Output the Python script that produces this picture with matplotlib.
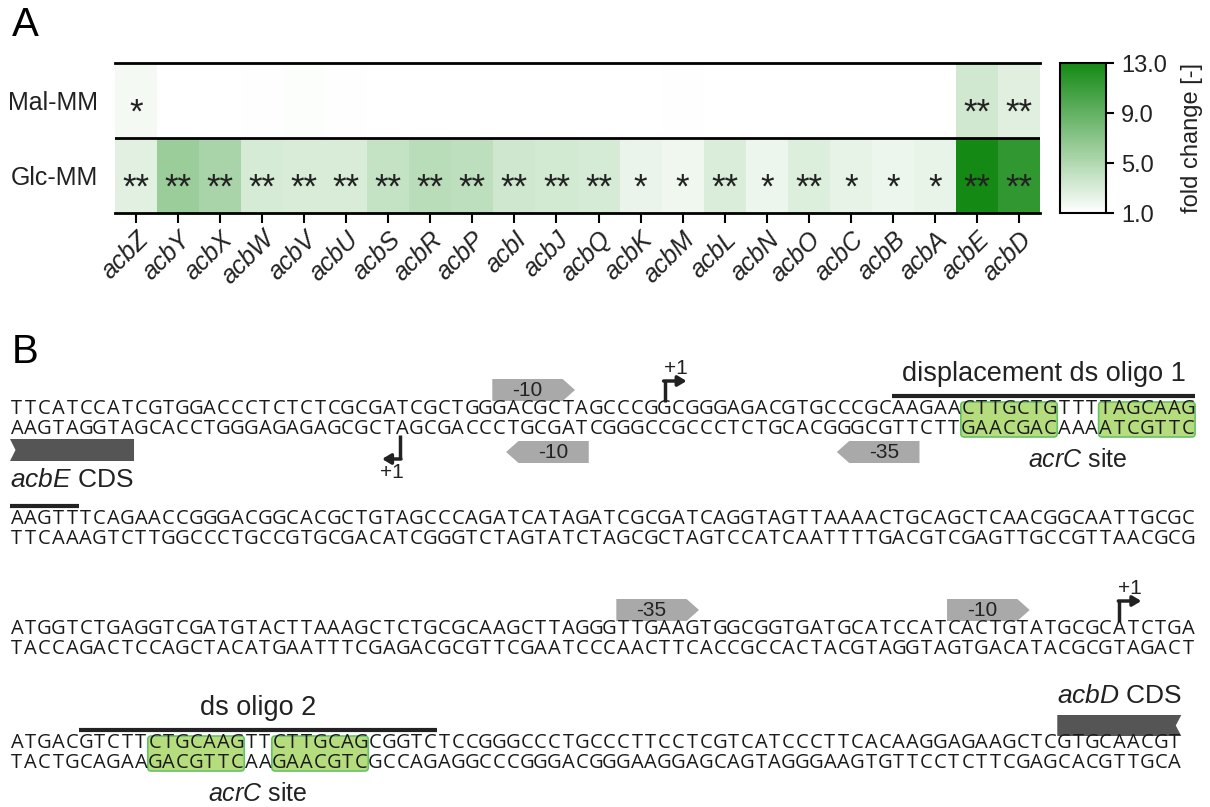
import matplotlib
matplotlib.use("Agg")
import matplotlib.pyplot as plt
import numpy as np
from matplotlib.colors import LinearSegmentedColormap
from matplotlib.patches import FancyBboxPatch, Polygon

plt.rcParams['font.family'] = 'Liberation Sans'
plt.rcParams['mathtext.fontset'] = 'custom'
plt.rcParams['mathtext.it'] = 'Liberation Sans:italic'
plt.rcParams['mathtext.rm'] = 'Liberation Sans'

# ---------------- panel A data ----------------
genes = ['acbZ', 'acbY', 'acbX', 'acbW', 'acbV', 'acbU', 'acbS', 'acbR', 'acbP', 'acbI', 'acbJ',
         'acbQ', 'acbK', 'acbM', 'acbL', 'acbN', 'acbO', 'acbC', 'acbB', 'acbA', 'acbE', 'acbD']
conditions = ['Mal-MM', 'Glc-MM']
mal_mm = [1.6, 1.05, 1.05, 1.1, 1.15, 1.1, 1.05, 1.0, 1.0, 1.05, 1.05,
          1.0, 1.05, 1.1, 1.05, 1.05, 1.05, 1.0, 1.0, 1.0, 3.4, 2.6]
glc_mm = [2.5, 6.2, 5.4, 3.1, 3.0, 3.0, 4.0, 4.6, 4.3, 3.5, 3.3,
          3.1, 2.1, 1.8, 2.9, 1.9, 2.8, 2.3, 1.9, 2.2, 13.0, 11.5]
mal_sig = ['*', '', '', '', '', '', '', '', '', '', '',
           '', '', '', '', '', '', '', '', '', '**', '**']
glc_sig = ['**', '**', '**', '**', '**', '**', '**', '**', '**', '**', '**',
           '**', '*', '*', '**', '*', '**', '*', '*', '*', '**', '**']
cbar_ticks = [1.0, 5.0, 9.0, 13.0]

# ---------------- panel B data ----------------
seq_top = [
    "TTCATCCATCGTGGACCCTCTCTCGCGATCGCTGGGACGCTAGCCCGGCGGGAGACGTGCCCGCAAGAACTTGCTGTTTTAGCAAG",
    "AAGTTTCAGAACCGGGACGGCACGCTGTAGCCCAGATCATAGATCGCGATCAGGTAGTTAAAACTGCAGCTCAACGGCAATTGCGC",
    "ATGGTCTGAGGTCGATGTACTTAAAGCTCTGCGCAAGCTTAGGGTTGAAGTGGCGGTGATGCATCCATCACTGTATGCGCATCTGA",
    "ATGACGTCTTCTGCAAGTTCTTGCAGCGGTCTCCGGGCCCTGCCCTTCCTCGTCATCCCTTCACAAGGAGAAGCTCGTGCAACGT",
]
seq_bottom = [
    "AAGTAGGTAGCACCTGGGAGAGAGCGCTAGCGACCCTGCGATCGGGCCGCCCTCTGCACGGGCGTTCTTGAACGACAAAATCGTTC",
    "TTCAAAGTCTTGGCCCTGCCGTGCGACATCGGGTCTAGTATCTAGCGCTAGTCCATCAATTTTGACGTCGAGTTGCCGTTAACGCG",
    "TACCAGACTCCAGCTACATGAATTTCGAGACGCGTTCGAATCCCAACTTCACCGCCACTACGTAGGTAGTGACATACGCGTAGACT",
    "TACTGCAGAAGACGTTCAAGAACGTCGCCAGAGGCCCGGGACGGGAAGGAGCAGTAGGGAAGTGTTCCTCTTCGAGCACGTTGCA",
]
# promoter boxes: row, strand, first base, last base (exclusive), label
promoters = [(0, 'top', 35, 41, '-10'), (0, 'bottom', 36, 42, '-10'), (0, 'bottom', 60, 66, '-35'),
             (2, 'top', 44, 50, '-35'), (2, 'top', 68, 74, '-10')]
# transcription starts: row, strand, base position
tss = [(0, 'top', 47.5), (0, 'bottom', 28.3), (2, 'top', 80.5)]
# acrC binding half sites: row, start, end
acr_sites = [(0, 69, 76), (0, 79, 86), (3, 10, 17), (3, 19, 26)]
acr_labels = [(0, 77.5), (3, 18.0)]
# oligo bars: row, start, end
oligos = [(0, 64, 86), (1, 0, 5), (3, 5, 31)]
oligo_labels = [(0, 75.0, 'displacement ds oligo 1'), (3, 18.0, 'ds oligo 2')]
# coding sequences: row, strand, start, end, gene
cds = [(0, 'bottom', 0, 9, 'acbE'), (3, 'top', 76, 85, 'acbD')]

W, H = 1210, 807
fig = plt.figure(figsize=(12.1, 8.07), dpi=100)


def px_axes(x0, y0, x1, y1):
    return fig.add_axes([x0 / W, 1 - y1 / H, (x1 - x0) / W, (y1 - y0) / H])


# ================= panel A =================
cmap = LinearSegmentedColormap.from_list('wg', ['#ffffff', '#148a14'])
ax = px_axes(115, 63, 1040, 213)
vals = np.array([mal_mm, glc_mm])
mesh = ax.pcolormesh(np.arange(len(genes) + 1), np.arange(len(conditions) + 1), vals,
                     cmap=cmap, vmin=1, vmax=13)
ax.set_xlim(0, len(genes))
ax.set_ylim(len(conditions), 0)
for sp in ['left', 'right']:
    ax.spines[sp].set_visible(False)
for sp in ['top', 'bottom']:
    ax.spines[sp].set_linewidth(2)
ax.axhline(1, color='black', lw=2)
ax.set_xticks(np.arange(len(genes)) + 0.5)
ax.set_xticklabels(genes, rotation=45, ha='right', rotation_mode='anchor',
                   fontsize=18, fontstyle='italic', color='#222222')
ax.set_yticks(np.arange(len(conditions)) + 0.5)
ax.set_yticklabels(conditions, fontsize=18, color='#222222')
ax.tick_params(axis='x', length=7, width=1.5, pad=3)
ax.tick_params(axis='y', length=0, pad=12)
for r, sig in enumerate([mal_sig, glc_sig]):
    for i, s in enumerate(sig):
        if s:
            ax.text(i + 0.5, r + 0.80, s, ha='center', va='baseline', fontsize=25, color='#222222')

cax = px_axes(1060, 63, 1106, 213)
cb = fig.colorbar(mesh, cax=cax, ticks=cbar_ticks)
cb.ax.set_yticklabels(['%.1f' % t for t in cbar_ticks], fontsize=17, color='#222222')
cb.ax.tick_params(length=6, width=1.5, pad=5)
cb.outline.set_linewidth(1.5)
cb.set_label('fold change [-]', fontsize=17, color='#222222', labelpad=10)

fig.text(12 / W, 1 - 6 / H, 'A', fontsize=29, va='top', ha='left')
fig.text(12 / W, 1 - 333 / H, 'B', fontsize=29, va='top', ha='left')

# ================= panel B =================
P = 13.78      # pixels per base
x0 = 10.0
row_y = [412, 522, 632, 746]
gap = 15
seq_fs = 14.5
axb = fig.add_axes([0, 0, 1, 1], zorder=-1)
axb.set_xlim(-x0 / P, (W - x0) / P)
axb.set_ylim(H, 0)
axb.axis('off')

# one two-line text per base pair column (top strand over bottom strand)
em = seq_fs * 100 / 72.0
for r in range(len(seq_top)):
    for i, (a, b) in enumerate(zip(seq_top[r], seq_bottom[r])):
        axb.text(i + 0.5, row_y[r] + gap + 0.357 * em, a + '\n' + b, ha='center', va='baseline',
                 multialignment='center', linespacing=gap / (0.76 * em), fontsize=seq_fs,
                 family='Open Sans', color='#1a1a1a')

# acrC sites
for r, a, b in acr_sites:
    box = FancyBboxPatch((a, row_y[r] - 10), b - a, gap + 20,
                         boxstyle='round,pad=0,rounding_size=0.25', mutation_aspect=P,
                         fc='#b5dd7e', ec='#66c266', lw=1.2, zorder=0)
    axb.add_patch(box)
for r, c in acr_labels:
    axb.text(c, row_y[r] + gap + 33, r'$\it{acrC}$ site', ha='center', va='center',
             fontsize=18, color='#222222')

# oligo bars
for r, a, b in oligos:
    axb.plot([a, b], [row_y[r] - 16, row_y[r] - 16], color='#222222', lw=3, solid_capstyle='butt')
for r, c, lab in oligo_labels:
    axb.text(c, row_y[r] - 38, lab, ha='center', va='center', fontsize=19.5, color='#222222')

# promoter elements
tip = 0.9
for r, strand, a, b, lab in promoters:
    if strand == 'top':
        yt, yb = row_y[r] - 33, row_y[r] - 11
        pts = [(a, yt), (b - tip, yt), (b, (yt + yb) / 2), (b - tip, yb), (a, yb)]
        cx = (a + b - tip) / 2
    else:
        yt, yb = row_y[r] + gap + 14, row_y[r] + gap + 36
        pts = [(b, yt), (a + tip, yt), (a, (yt + yb) / 2), (a + tip, yb), (b, yb)]
        cx = (a + tip + b) / 2
    axb.add_patch(Polygon(pts, closed=True, fc='#a9a9a9', ec='none'))
    axb.text(cx, (yt + yb) / 2 + 1, lab, ha='center', va='center', fontsize=15, color='#222222')

# transcription start sites
for r, strand, c in tss:
    if strand == 'top':
        ya, yb = row_y[r] - 10, row_y[r] - 31
        xe = c + 1.6
        ty = row_y[r] - 43
        tx = c + 0.8
    else:
        ya, yb = row_y[r] + gap + 8, row_y[r] + gap + 32
        xe = c - 1.3
        ty = row_y[r] + gap + 45
        tx = c - 0.6
    axb.plot([c, c], [ya, yb], color='#222222', lw=2.5, solid_capstyle='butt')
    axb.annotate('', xy=(xe, yb), xytext=(c - (0.07 if strand == 'top' else -0.07), yb),
                 arrowprops=dict(arrowstyle='-|>,head_length=0.5,head_width=0.3', lw=2.5,
                                 color='#222222', shrinkA=0, shrinkB=0))
    axb.text(tx, ty, '+1', ha='center', va='center', fontsize=15, color='#222222')

# coding sequences
notch = 0.4
for r, strand, a, b, gene in cds:
    if strand == 'bottom':
        yt, yb = row_y[r] + gap + 12, row_y[r] + gap + 34
        pts = [(a, yt), (b, yt), (b, yb), (a, yb), (a + notch, (yt + yb) / 2)]
        ly = row_y[r] + gap + 53
        axb.text(a, ly, r'$\it{%s}$ CDS' % gene, ha='left', va='center', fontsize=19, color='#222222')
    else:
        yt, yb = row_y[r] - 31, row_y[r] - 10
        pts = [(a, yt), (b, yt), (b - notch, (yt + yb) / 2), (b, yb), (a, yb)]
        ly = row_y[r] - 50
        axb.text((a + b) / 2, ly, r'$\it{%s}$ CDS' % gene, ha='center', va='center', fontsize=19,
                 color='#222222')
    axb.add_patch(Polygon(pts, closed=True, fc='#555555', ec='none'))

fig.savefig('out.png', dpi=100)
